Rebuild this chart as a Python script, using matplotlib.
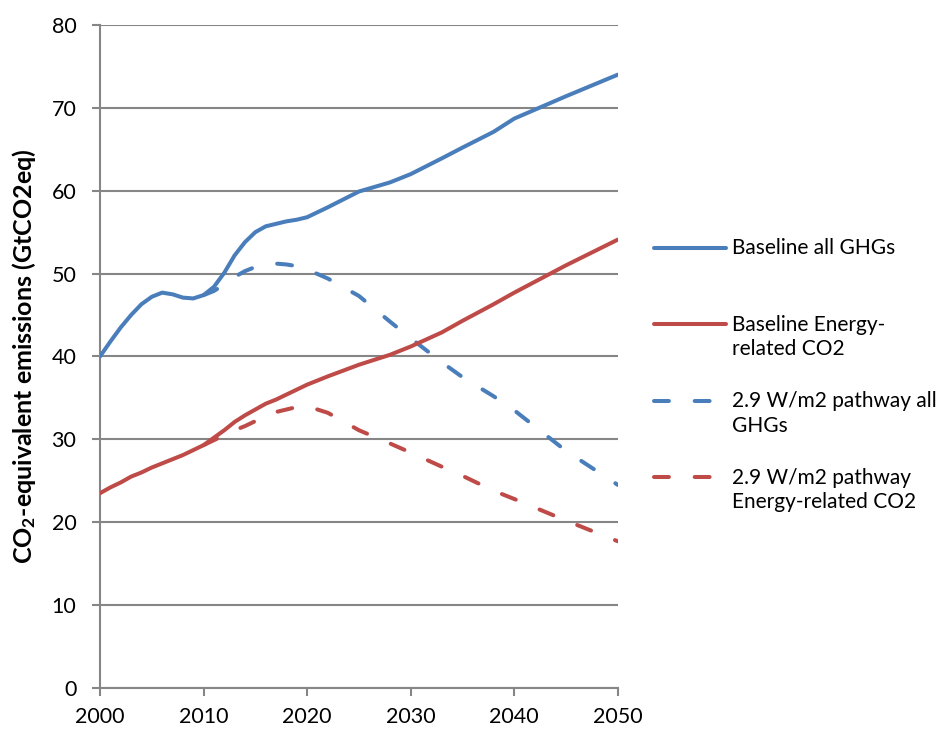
import numpy as np
import matplotlib
matplotlib.use("Agg")
from matplotlib import pyplot as plt

plt.rcParams['font.family'] = ['Lato', 'DejaVu Sans']
plt.rcParams['mathtext.default'] = 'regular'

years = [2000, 2001, 2002, 2003, 2004, 2005, 2006, 2007, 2008, 2009, 2010,
         2011, 2012, 2013, 2014, 2015, 2016, 2017, 2018, 2019, 2020,
         2022, 2025, 2028, 2030, 2033, 2035, 2038, 2040, 2045, 2050]

base_ghg = [40.0, 41.8, 43.5, 45.0, 46.3, 47.2, 47.7, 47.5, 47.1, 47.0, 47.4,
            48.4, 50.1, 52.2, 53.8, 55.0, 55.7, 56.0, 56.3, 56.5, 56.8,
            58.0, 59.9, 61.0, 62.0, 63.9, 65.2, 67.1, 68.7, 71.4, 74.0]
base_co2 = [23.5, 24.2, 24.8, 25.5, 26.0, 26.6, 27.1, 27.6, 28.1, 28.7, 29.3,
            30.2, 31.1, 32.1, 32.9, 33.6, 34.3, 34.8, 35.4, 36.0, 36.6,
            37.6, 39.0, 40.2, 41.2, 42.9, 44.3, 46.3, 47.7, 51.0, 54.1]
path_ghg = [None] * 10 + [47.4, 47.9, 48.7, 49.6, 50.3, 50.8, 51.1, 51.2,
                          51.1, 50.9, 50.5, 49.4, 47.3, 44.2, 42.2, 39.3,
                          37.5, 35.2, 33.5, 28.6, 24.5]
path_co2 = [None] * 10 + [29.3, 29.9, 30.5, 31.1, 31.6, 32.2, 32.8, 33.3,
                          33.6, 33.9, 34.0, 33.2, 31.1, 29.5, 28.4, 26.7,
                          25.6, 23.8, 22.8, 20.2, 17.7]

labels = ['Baseline all GHGs\n ',
          'Baseline Energy-\nrelated CO2',
          '2.9 W/m2 pathway all\nGHGs',
          '2.9 W/m2 pathway\nEnergy-related CO2']

blue = '#4a7ebb'
red = '#be4b48'
grid_col = '#868686'


def arr(v):
    return np.array([np.nan if x is None else x for x in v], dtype=float)


fig = plt.figure(figsize=(9.39, 7.33), dpi=100)
ax = fig.add_axes([0.1065, 0.0614, 0.5515, 0.9046])

dash = (0, (3.7, 6.4))
lw = 2.9
ax.plot(years, arr(base_ghg), color=blue, lw=lw, solid_capstyle='round',
        solid_joinstyle='round', label=labels[0], zorder=3)
ax.plot(years, arr(base_co2), color=red, lw=lw, solid_capstyle='round',
        solid_joinstyle='round', label=labels[1], zorder=3)
ax.plot(years, arr(path_ghg), color=blue, lw=lw, linestyle=dash,
        dash_capstyle='round', label=labels[2], zorder=2)
ax.plot(years, arr(path_co2), color=red, lw=lw, linestyle=dash,
        dash_capstyle='round', label=labels[3], zorder=2)

ax.set_xlim(2000, 2050)
ax.set_ylim(0, 80)
ax.set_xticks(range(2000, 2051, 10))
ax.set_yticks(range(0, 81, 10))
ax.yaxis.grid(True, color=grid_col, lw=1.5)
ax.set_axisbelow(True)
for s in ['top', 'right']:
    ax.spines[s].set_visible(False)
for s in ['left', 'bottom']:
    ax.spines[s].set_color(grid_col)
    ax.spines[s].set_linewidth(1.5)
ax.tick_params(axis='both', direction='out', length=6, width=1.5,
               color=grid_col, labelsize=15.5, pad=8)
ax.tick_params(axis='y', pad=11)

ax.set_ylabel('CO$_2$-equivalent emissions (GtCO2eq)', fontsize=18,
              fontweight='bold')
ax.yaxis.set_label_coords(-0.12, 0.5)

fs = 15
ls = 1.3
leg = ax.legend(loc='center left', bbox_to_anchor=(0.676, 0.488),
                bbox_transform=fig.transFigure, frameon=False, fontsize=fs,
                handlelength=3.5, handletextpad=0.25, labelspacing=1.52)
for t in leg.get_texts():
    t.set_linespacing(ls)
# put each key on the first line of its label, as in the original
for h in leg.legend_handles:
    y = np.asarray(h.get_ydata(), dtype=float)
    h.set_ydata(y + 0.5 * ls * fs)

fig.savefig('out.png', dpi=100)
